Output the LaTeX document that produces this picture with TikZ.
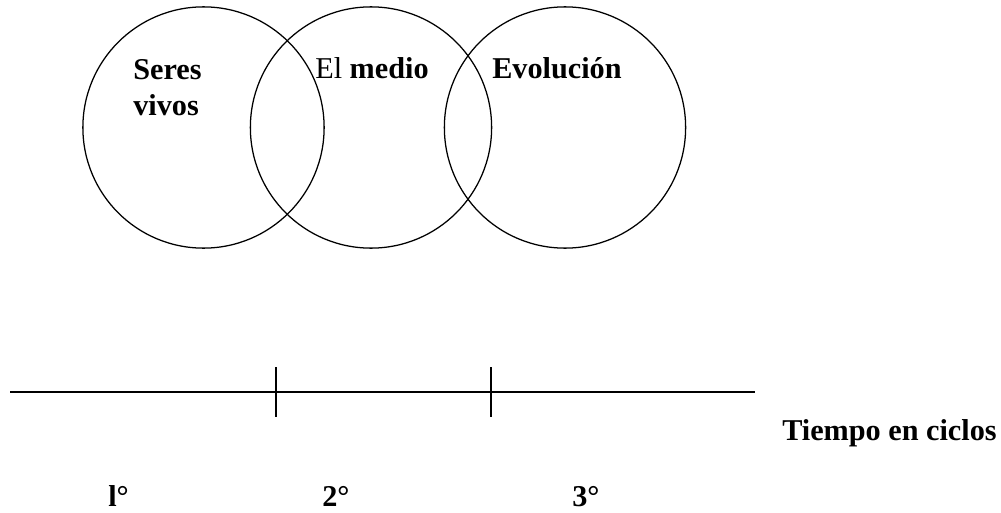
\documentclass[tikz,border=0pt]{standalone}
\usepackage{fontspec}
\setmainfont{Liberation Serif}
\usetikzlibrary{positioning}

\begin{document}
\begin{tikzpicture}[x=0.025cm, y=-0.025cm]

		% Define styles
		\tikzstyle{ring} = [circle, draw, line width=0.9pt, minimum size=6.03cm, inner sep=0pt]
		\tikzstyle{label} = [inner sep=0pt, anchor=base west, font=\fontsize{21.5}{25}\selectfont\bfseries]

		\useasboundingbox (0,0) rectangle (1001,513);

		% Circles
		\node[ring] (seres) at (203.5,127.5) {};
		\node[ring] (medio) at (371,127.5) {};
		\node[ring] (evol) at (565,127.5) {};

		% Circle labels
		\node[label] (serest) at (133,79) {Seres};
		\node[label] (vivost) at (133,115) {vivos};
		\node[label] (mediot) at (315,78) {\mdseries El \bfseries medio};
		\node[label] (evolt) at (492,78) {Evolución};

		% Time line
		\coordinate (start) at (10,392);
		\coordinate (end) at (755,392);
		\coordinate (tickAtop) at (276,367);
		\coordinate (tickAbot) at (276,417);
		\coordinate (tickBtop) at (491,367);
		\coordinate (tickBbot) at (491,417);
		\draw[line width=1.2pt] (start) -- (end);
		\draw[line width=0.8pt] (tickAtop) -- (tickAbot);
		\draw[line width=0.8pt] (tickBtop) -- (tickBbot);

		% Time labels
		\node[label] (tiempo) at (782,440) {Tiempo en ciclos};
		\node[label] (first) at (108,506) {l°};
		\node[label] (second) at (322,506) {2°};
		\node[label] (third) at (572,506) {3°};

	\end{tikzpicture}
\end{document}
